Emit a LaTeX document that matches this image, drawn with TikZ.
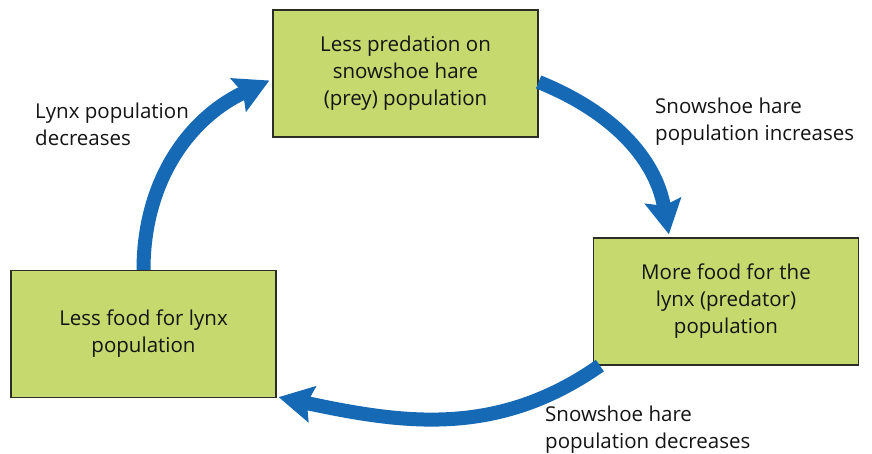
\documentclass[tikz,border=0pt]{standalone}
\usepackage{fontspec}
\setmainfont{Open Sans}
\usetikzlibrary{arrows.meta}
\definecolor{boxfill}{RGB}{197,217,110}
\definecolor{boxline}{RGB}{45,45,40}
\definecolor{arrowblue}{RGB}{22,105,180}
\definecolor{txt}{RGB}{20,20,20}
\begin{document}
\begin{tikzpicture}[x=1pt,y=-1pt,
  every node/.style={text=txt,font=\fontsize{20.5}{27}\selectfont},
  stagebox/.style={draw=boxline,line width=1.2pt,fill=boxfill,align=center,
    minimum width=265pt,minimum height=127pt,inner sep=0pt},
  cyclearrow/.style={draw=arrowblue,line width=14pt,
    -{Stealth[length=34pt,width=36pt,inset=5pt]}},
  sidelabel/.style={align=left,anchor=west,inner sep=0pt}]
\useasboundingbox (0,0) rectangle (872,454);
\node[stagebox] (top) at (405.5,73.5) {Less predation on\\snowshoe hare\\(prey) population};
\node[stagebox] (right) at (726,301.5) {More food for the\\lynx (predator)\\population};
\node[stagebox] (left) at (143.5,334) {Less food for lynx\\population};
\path[cyclearrow] (left.north) to[out=90,in=205] ([xshift=-3pt,yshift=-7pt]top.west);
\path[cyclearrow] ([yshift=-8.5pt]top.east) to[out=-22,in=100] ([xshift=76pt,yshift=3pt]right.north west);
\path[cyclearrow] ([xshift=7pt]right.south west) to[out=215,in=-12] ([xshift=2pt,yshift=1pt]left.south east);
\node[sidelabel] (l1) at (35,124) {Lynx population\\decreases};
\node[sidelabel] (l2) at (655,122) {Snowshoe hare\\population increases};
\node[sidelabel] (l3) at (545,430) {Snowshoe hare\\population decreases};
\end{tikzpicture}
\end{document}
